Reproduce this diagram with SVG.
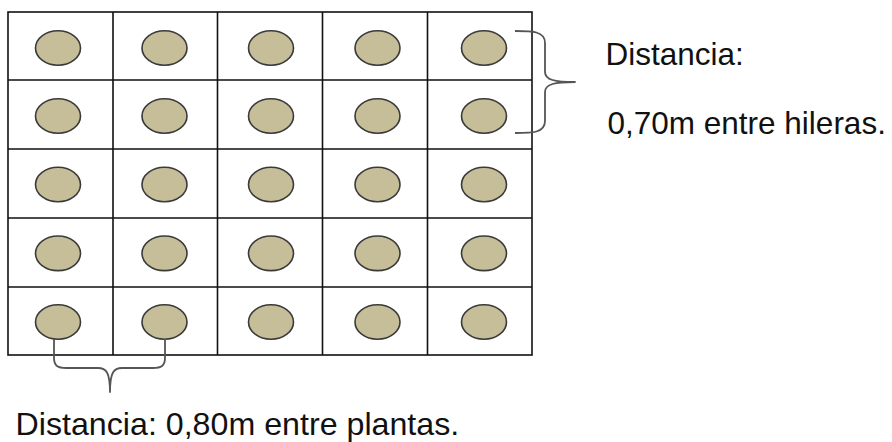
<svg xmlns="http://www.w3.org/2000/svg" width="892" height="442" viewBox="0 0 892 442">
  <style>
    .grid { fill: none; stroke: #111; stroke-width: 1.6; }
    .plant { fill: #C6BE99; stroke: #3a3a3a; stroke-width: 1.6; }
    .brace { fill: none; stroke: #555; stroke-width: 1.8; stroke-linejoin: round; }
    .label { font-family: "Liberation Sans", Arial, sans-serif; font-size: 31.5px; fill: #111; }
    .label-big { font-size: 32.2px; }
  </style>
  <rect width="892" height="442" fill="#fff"/>

  <!-- planting grid: 5 x 5 cells -->
  <g id="grid">
    <rect class="grid" x="8" y="12" width="524" height="343"/>
    <path class="grid" d="M113,12 V355 M217.5,12 V355 M322.5,12 V355 M427.5,12 V355"/>
    <path class="grid" d="M8,80 H532 M8,149 H532 M8,218 H532 M8,287 H532"/>
  </g>

  <!-- plants -->
  <g id="plants">
    <g id="row1">
      <ellipse class="plant" cx="58" cy="48" rx="22.5" ry="17.3"/>
      <ellipse class="plant" cx="164.5" cy="48" rx="22.5" ry="17.3"/>
      <ellipse class="plant" cx="271" cy="48" rx="22.5" ry="17.3"/>
      <ellipse class="plant" cx="377.5" cy="48" rx="22.5" ry="17.3"/>
      <ellipse class="plant" cx="484" cy="48" rx="22.5" ry="17.3"/>
    </g>
    <g id="row2">
      <ellipse class="plant" cx="58" cy="116" rx="22.5" ry="17.3"/>
      <ellipse class="plant" cx="164.5" cy="116" rx="22.5" ry="17.3"/>
      <ellipse class="plant" cx="271" cy="116" rx="22.5" ry="17.3"/>
      <ellipse class="plant" cx="377.5" cy="116" rx="22.5" ry="17.3"/>
      <ellipse class="plant" cx="484" cy="116" rx="22.5" ry="17.3"/>
    </g>
    <g id="row3">
      <ellipse class="plant" cx="58" cy="184.5" rx="22.5" ry="17.3"/>
      <ellipse class="plant" cx="164.5" cy="184.5" rx="22.5" ry="17.3"/>
      <ellipse class="plant" cx="271" cy="184.5" rx="22.5" ry="17.3"/>
      <ellipse class="plant" cx="377.5" cy="184.5" rx="22.5" ry="17.3"/>
      <ellipse class="plant" cx="484" cy="184.5" rx="22.5" ry="17.3"/>
    </g>
    <g id="row4">
      <ellipse class="plant" cx="58" cy="253.3" rx="22.5" ry="17.3"/>
      <ellipse class="plant" cx="164.5" cy="253.3" rx="22.5" ry="17.3"/>
      <ellipse class="plant" cx="271" cy="253.3" rx="22.5" ry="17.3"/>
      <ellipse class="plant" cx="377.5" cy="253.3" rx="22.5" ry="17.3"/>
      <ellipse class="plant" cx="484" cy="253.3" rx="22.5" ry="17.3"/>
    </g>
    <g id="row5">
      <ellipse class="plant" cx="58" cy="322" rx="22.5" ry="17.3"/>
      <ellipse class="plant" cx="164.5" cy="322" rx="22.5" ry="17.3"/>
      <ellipse class="plant" cx="271" cy="322" rx="22.5" ry="17.3"/>
      <ellipse class="plant" cx="377.5" cy="322" rx="22.5" ry="17.3"/>
      <ellipse class="plant" cx="484" cy="322" rx="22.5" ry="17.3"/>
    </g>
  </g>

  <!-- spacing braces -->
  <g id="connectors">
    <path class="brace" d="M515,31 C532,31 545,31 545,43 L545,72 C545,80 555,82 575,82 C555,82 545,84 545,92 L545,121 C545,133 532,133 515,133"/>
    <path class="brace" d="M54,339 L54,358 C54,366 58,368 66,368 L98,368 C106,368 110,372 110,392 C110,372 114,368 122,368 L153,368 C161,368 165,366 165,358 L165,339"/>
  </g>

  <!-- labels -->
  <g id="label-rows">
    <text class="label" x="605.5" y="65">Distancia:</text>
    <text class="label" x="607.5" y="134">0,70m entre hileras.</text>
  </g>
  <g id="label-plants">
    <text class="label label-big" x="15.5" y="435">Distancia: 0,80m entre plantas.</text>
  </g>
</svg>
